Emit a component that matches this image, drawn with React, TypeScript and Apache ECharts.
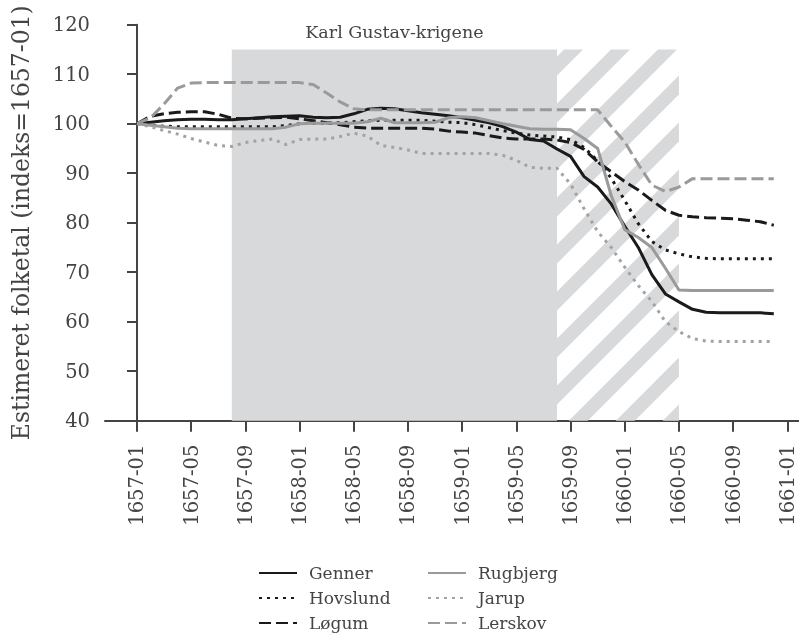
import React, { useEffect, useRef } from "react";
import * as echarts from "echarts";

// Month index 0 = 1657-01 ... 47 = 1660-12
const tickMonths = [0, 4, 8, 12, 16, 20, 24, 28, 32, 36, 40, 44, 48];
const tickLabels = [
  "1657-01", "1657-05", "1657-09", "1658-01", "1658-05", "1658-09", "1659-01",
  "1659-05", "1659-09", "1660-01", "1660-05", "1660-09", "1661-01",
];

const genner = [100, 100.3, 100.6, 100.8, 100.9, 100.9, 100.8, 100.8, 101.0, 101.2, 101.4, 101.5, 101.6, 101.3, 101.2, 101.3, 102.0, 102.9, 103.1, 103.0, 102.6, 102.2, 101.9, 101.6, 101.2, 100.7, 100.2, 99.4, 98.3, 96.8, 96.5, 94.9, 93.4, 89.3, 87.2, 83.8, 79.3, 75.0, 69.5, 65.6, 64.0, 62.5, 61.9, 61.8, 61.8, 61.8, 61.8, 61.6];
const hovslund = [100, 99.7, 99.5, 99.4, 99.4, 99.4, 99.4, 99.4, 99.4, 99.4, 99.4, 99.6, 100.0, 100.1, 100.1, 100.2, 100.4, 100.6, 100.7, 100.7, 100.7, 100.7, 100.5, 100.3, 100.2, 99.8, 99.2, 98.6, 98.1, 97.7, 97.5, 97.3, 96.8, 95.2, 92.5, 89.0, 84.5, 79.8, 76.2, 74.5, 73.7, 73.1, 72.8, 72.7, 72.7, 72.7, 72.7, 72.7];
const loegum = [100, 101.5, 102.0, 102.3, 102.4, 102.4, 101.9, 101.1, 101.0, 101.1, 101.2, 101.3, 101.0, 100.6, 100.2, 99.8, 99.3, 99.1, 99.1, 99.1, 99.1, 99.1, 98.9, 98.5, 98.3, 98.1, 97.6, 97.1, 96.9, 96.9, 96.9, 96.7, 96.2, 94.8, 92.3, 90.3, 88.3, 86.6, 84.5, 82.5, 81.5, 81.2, 81.0, 80.9, 80.8, 80.5, 80.2, 79.5];
const rugbjerg = [100, 99.7, 99.4, 99.1, 99.0, 99.0, 99.0, 99.0, 99.0, 99.0, 99.0, 99.3, 100.0, 100.1, 100.1, 100.1, 100.1, 100.4, 101.1, 100.2, 100.2, 100.2, 100.3, 101.2, 101.4, 101.2, 100.6, 100.0, 99.5, 99.0, 98.9, 98.9, 98.8, 97.0, 95.0, 85.5, 78.6, 77.0, 75.0, 70.8, 66.4, 66.3, 66.3, 66.3, 66.3, 66.3, 66.3, 66.3];
const jarup = [100, 99.4, 98.6, 97.9, 97.0, 96.3, 95.6, 95.4, 96.2, 96.6, 96.9, 95.8, 96.8, 96.9, 96.9, 97.4, 98.1, 97.5, 95.6, 95.2, 94.7, 94.0, 94.0, 94.0, 94.0, 94.0, 94.0, 93.6, 92.6, 91.2, 91.0, 91.0, 87.8, 82.8, 78.2, 75.0, 71.0, 67.3, 64.1, 60.0, 58.0, 56.6, 56.1, 56.0, 56.0, 56.0, 56.0, 56.0];
const lerskov = [100, 101.2, 104.0, 107.2, 108.2, 108.3, 108.3, 108.3, 108.3, 108.3, 108.3, 108.3, 108.3, 107.9, 106.2, 104.4, 103.0, 102.8, 102.8, 102.8, 102.8, 102.8, 102.8, 102.8, 102.8, 102.8, 102.8, 102.8, 102.8, 102.8, 102.8, 102.8, 102.8, 102.8, 102.8, 99.5, 96.3, 91.8, 87.6, 86.3, 87.2, 88.9, 88.9, 88.9, 88.9, 88.9, 88.9, 88.9];

const seriesNames = ["Genner", "Hovslund", "Løgum", "Rugbjerg", "Jarup", "Lerskov"];
const seriesValues = [genner, hovslund, loegum, rugbjerg, jarup, lerskov];

// War periods (month indices): solid phase and hatched phase
const warLabel = "Karl Gustav-krigene";
const warSolid = [7, 31];
const warHatch = [31, 40];
const warTop = 115;

const FONT = "DejaVu Serif";
const TEXT = "#444444";
const BLACK = "#1a1a1a";
const GREY = "#9a9a9a";
const GREY_DOT = "#a3a3a3";
const SHADE = "#d8d9db";

const styles: any[] = [
  { color: BLACK, type: "solid" },
  { color: BLACK, type: [3, 5] },
  { color: BLACK, type: [12, 5] },
  { color: GREY, type: "solid" },
  { color: GREY_DOT, type: [3, 5] },
  { color: GREY, type: [12, 5] },
];

function clip(pts: number[][], keep: (p: number[]) => boolean, inter: (a: number[], b: number[]) => number[]) {
  const out: number[][] = [];
  const n = pts.length;
  for (let i = 0; i < n; i++) {
    const cur = pts[i];
    const prev = pts[(i + n - 1) % n];
    if (keep(cur)) {
      if (!keep(prev)) out.push(inter(prev, cur));
      out.push(cur);
    } else if (keep(prev)) {
      out.push(inter(prev, cur));
    }
  }
  return out;
}
function atX(a: number[], b: number[], x: number) {
  return [x, a[1] + ((b[1] - a[1]) * (x - a[0])) / (b[0] - a[0])];
}

export default function App() {
  const ref = useRef<HTMLDivElement>(null);
  useEffect(() => {
    if (!ref.current) return;
    const chart = echarts.init(ref.current, undefined, { renderer: "svg" });

    const renderShade = (params: any, api: any) => {
      const x0 = api.value(0);
      const x1 = api.value(1);
      const top = api.value(2);
      const kind = api.value(3);
      const p0 = api.coord([x0, top]);
      const p1 = api.coord([x1, 40]);
      const xmin = p0[0], ymin = p0[1], xmax = p1[0], ymax = p1[1];
      if (kind === 0) {
        return {
          type: "group",
          children: [
            { type: "rect", shape: { x: xmin, y: ymin, width: xmax - xmin, height: ymax - ymin }, style: { fill: SHADE } },
            {
              type: "text",
              style: {
                text: warLabel,
                x: (xmin + xmax) / 2,
                y: ymin - 17,
                align: "center",
                verticalAlign: "middle",
                fontSize: 17.5,
                fontFamily: FONT,
                fill: TEXT,
              },
            },
          ],
        };
      }
      const period = 47;
      const width = 19;
      const uStart = xmin + ymin + 7;
      const children: any[] = [];
      for (let k = -20; k < 40; k++) {
        const ua = uStart + k * period;
        const ub = ua + width;
        if (ub < xmin + ymin || ua > xmax + ymax) continue;
        let poly = [
          [ua - ymin, ymin],
          [ub - ymin, ymin],
          [ub - ymax, ymax],
          [ua - ymax, ymax],
        ];
        poly = clip(poly, (p) => p[0] >= xmin, (a, b) => atX(a, b, xmin));
        if (poly.length < 3) continue;
        poly = clip(poly, (p) => p[0] <= xmax, (a, b) => atX(a, b, xmax));
        if (poly.length < 3) continue;
        children.push({ type: "polygon", shape: { points: poly }, style: { fill: SHADE } });
      }
      return { type: "group", children };
    };

    const lineSeries = seriesNames.map((name, i) => ({
      name,
      type: "line",
      data: seriesValues[i].map((v, m) => [m, v]),
      symbol: "none",
      showSymbol: false,
      silent: true,
      z: 3 + i,
      lineStyle: { color: styles[i].color, width: 3, type: styles[i].type, cap: "butt", join: "round" },
      itemStyle: { color: styles[i].color },
      emphasis: { disabled: true },
    }));

    const legendCommon = {
      orient: "vertical",
      top: 563,
      padding: 0,
      itemWidth: 38,
      itemHeight: 16,
      itemGap: 5,
      selectedMode: false,
      itemStyle: { opacity: 0 },
      textStyle: { fontSize: 17, color: TEXT, fontFamily: FONT, lineHeight: 20, padding: [0, 0, 0, 7] },
    };

    chart.setOption({
      animation: false,
      textStyle: { fontFamily: FONT },
      grid: { left: 105, right: 0, top: 24.7, bottom: 214.3 },
      legend: [
        { ...legendCommon, left: 258, data: seriesNames.slice(0, 3) },
        { ...legendCommon, left: 427, data: seriesNames.slice(3) },
      ],
      xAxis: {
        type: "value",
        min: -2.36,
        max: 48.86,
        axisLine: { show: true, onZero: false, lineStyle: { color: TEXT, width: 2 } },
        axisTick: { show: true, length: 11, customValues: tickMonths, lineStyle: { color: TEXT, width: 2 } },
        axisLabel: {
          customValues: tickMonths,
          rotate: 90,
          margin: 24,
          fontSize: 19.5,
          color: TEXT,
          fontFamily: FONT,
          formatter: (v: number) => {
            const idx = tickMonths.indexOf(Math.round(v));
            return idx >= 0 ? tickLabels[idx] : "";
          },
        },
        splitLine: { show: false },
      },
      yAxis: {
        type: "value",
        min: 40,
        max: 120,
        interval: 10,
        name: "Estimeret folketal (indeks=1657-01)",
        nameLocation: "middle",
        nameGap: 72,
        nameTextStyle: { fontSize: 23.5, color: TEXT, fontFamily: FONT },
        axisLine: { show: true, lineStyle: { color: TEXT, width: 2 } },
        axisTick: { show: true, length: 10, lineStyle: { color: TEXT, width: 2 } },
        axisLabel: { fontSize: 19.5, color: TEXT, fontFamily: FONT, margin: 15 },
        splitLine: { show: false },
      },
      series: [
        {
          name: "shade",
          type: "custom",
          silent: true,
          z: 1,
          clip: false,
          renderItem: renderShade,
          encode: { x: [0, 1], y: 2 },
          data: [
            [warSolid[0], warSolid[1], warTop, 0],
            [warHatch[0], warHatch[1], warTop, 1],
          ],
        },
        ...lineSeries,
      ],
    });
    return () => chart.dispose();
  }, []);
  return <div ref={ref} style={{ position: "fixed", left: 0, top: 0, width: 799, height: 635 }} />;
}
